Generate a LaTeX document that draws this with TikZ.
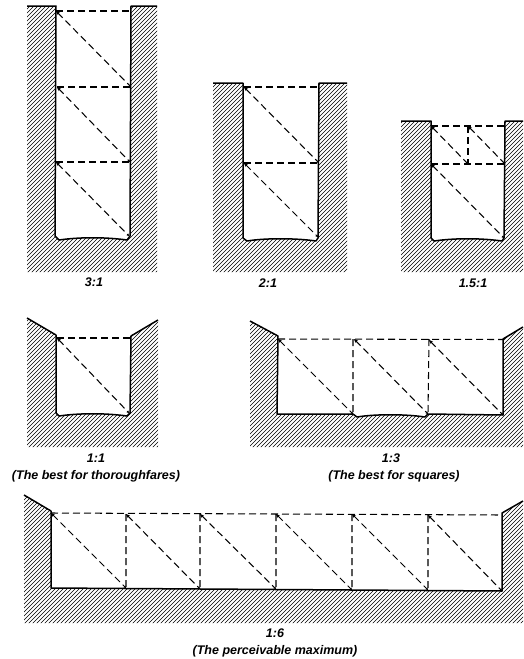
\documentclass[tikz,border=0pt]{standalone}
\usepackage{fontspec}
\usetikzlibrary{arrows.meta}
\setmainfont{Liberation Sans}
\tikzset{
  wall/.style={line width=1.5pt,black,line join=round},
  guide/.style={line width=1.05pt,black,dash pattern=on 7pt off 4pt},
  diag/.style={guide,{Stealth[length=4pt,width=3.5pt]}-{Stealth[length=2.5pt,width=2.5pt]}},
  hatchline/.style={line width=0.6pt,black},
  labeltext/.style={font=\bfseries\itshape\fontsize{12.5}{14}\selectfont,inner sep=0pt,anchor=center}
}
\newcommand{\hatchpoly}[1]{%
  \begin{scope}
    \clip #1;
    \foreach \c in {0,4,...,1200} {\draw[hatchline] (\c,0) -- (\c-660,660);}
  \end{scope}}
\begin{document}
\begin{tikzpicture}[x=1pt,y=-1pt]
\useasboundingbox (0,0) rectangle (523,659);
% 3:1
\hatchpoly{(27,6) -- (56,6) -- (55,236) -- (59,240) .. controls (80,237) and (105,237) .. (127,240) -- (130,236) -- (131,6) -- (157,6) -- (157,272) -- (27,272) -- cycle}
\draw[wall] (27,6) -- (56,6) -- (55,236) -- (59,240) .. controls (80,237) and (105,237) .. (127,240) -- (130,236) -- (131,6) -- (157,6);
\draw[guide] (56,11) -- (131,11) (57,87) -- (131,87) (56,162) -- (130,162);
\draw[diag] (56,11) -- (131,87);
\draw[diag] (57,87) -- (130,162);
\draw[diag] (56,162) -- (129,236);
\node[labeltext] (t1) at (94,282) {3:1};
% 2:1
\hatchpoly{(213,83) -- (243,83) -- (243,238) -- (247,241) .. controls (265,238) and (295,238) .. (316,241) -- (318,238) -- (319,83) -- (347,83) -- (347,272) -- (213,272) -- cycle}
\draw[wall] (213,83) -- (243,83) -- (243,238) -- (247,241) .. controls (265,238) and (295,238) .. (316,241) -- (318,238) -- (319,83) -- (347,83);
\draw[guide] (244,87) -- (319,87) (244,163) -- (319,163);
\draw[diag] (244,87) -- (319,163);
\draw[diag] (244,163) -- (318,237);
\node[labeltext] (t2) at (268,283) {2:1};
% 1.5:1
\hatchpoly{(401,121) -- (431,121) -- (431,238) -- (434,241) .. controls (455,238) and (480,238) .. (502,241) -- (504,238) -- (505,121) -- (523,121) -- (523,272) -- (401,272) -- cycle}
\draw[wall] (401,121) -- (431,121) -- (431,238) -- (434,241) .. controls (455,238) and (480,238) .. (502,241) -- (504,238) -- (505,121) -- (523,121);
\draw[guide] (431,126) -- (505,126) (431,164) -- (505,164) (468,126) -- (468,164);
\draw[diag] (431,126) -- (468,164);
\draw[diag] (468,126) -- (505,164);
\draw[diag] (431,164) -- (504,238);
\node[labeltext] (t3) at (473,283) {1.5:1};
% 1:1
\hatchpoly{(27,318) -- (56,335) -- (56,413) -- (59,416) .. controls (80,413) and (105,413) .. (127,416) -- (130,413) -- (131,336) -- (158,320) -- (158,447) -- (27,447) -- cycle}
\draw[wall] (27,318) -- (56,335) -- (56,413) -- (59,416) .. controls (80,413) and (105,413) .. (127,416) -- (130,413) -- (131,336) -- (158,320);
\draw[guide] (57,338) -- (131,338);
\draw[diag] (57,338) -- (129,413);
\node[labeltext] (t4) at (96,458) {1:1};
\node[labeltext] (t5) at (96,476) {(The best for thoroughfares)};
% 1:3
\hatchpoly{(250,321) -- (278,336) -- (277,414) -- (353,414) -- (357,417) .. controls (375,414) and (405,414) .. (425,417) -- (428,414) -- (503,415) -- (503,339) -- (523,327) -- (523,447) -- (250,447) -- cycle}
\draw[wall] (250,321) -- (278,336) -- (277,414) -- (353,414) -- (357,417) .. controls (375,414) and (405,414) .. (425,417) -- (428,414) -- (503,415) -- (503,339) -- (523,327);
\draw[guide] (278,339) -- (503,339.5) (353,339) -- (353,414) (429,339) -- (428,414);
\draw[diag] (278,339) -- (353,414);
\draw[diag] (354,339) -- (428,414);
\draw[diag] (429,340) -- (503,415);
\node[labeltext] (t6) at (391,458) {1:3};
\node[labeltext] (t7) at (394,476) {(The best for squares)};
% 1:6
\hatchpoly{(24,495) -- (51,511) -- (51,588) -- (502,591) -- (502,513) -- (523,501) -- (523,623) -- (24,623) -- cycle}
\draw[wall] (24,495) -- (51,511) -- (51,588) -- (502,591) -- (502,513) -- (523,501);
\draw[guide] (51,513) -- (502,515) (126,514) -- (126,588) (200,514) -- (200,589) (276,514) -- (276,589) (352,514) -- (352,590) (428,515) -- (428,590);
\draw[diag] (51,513) -- (126,588);
\draw[diag] (126,514) -- (200,589);
\draw[diag] (200,514) -- (276,589);
\draw[diag] (276,514) -- (352,590);
\draw[diag] (352,514) -- (428,590);
\draw[diag] (428,515) -- (502,591);
\node[labeltext] (t8) at (275,633) {1:6};
\node[labeltext] (t9) at (275,651) {(The perceivable maximum)};
\end{tikzpicture}
\end{document}
